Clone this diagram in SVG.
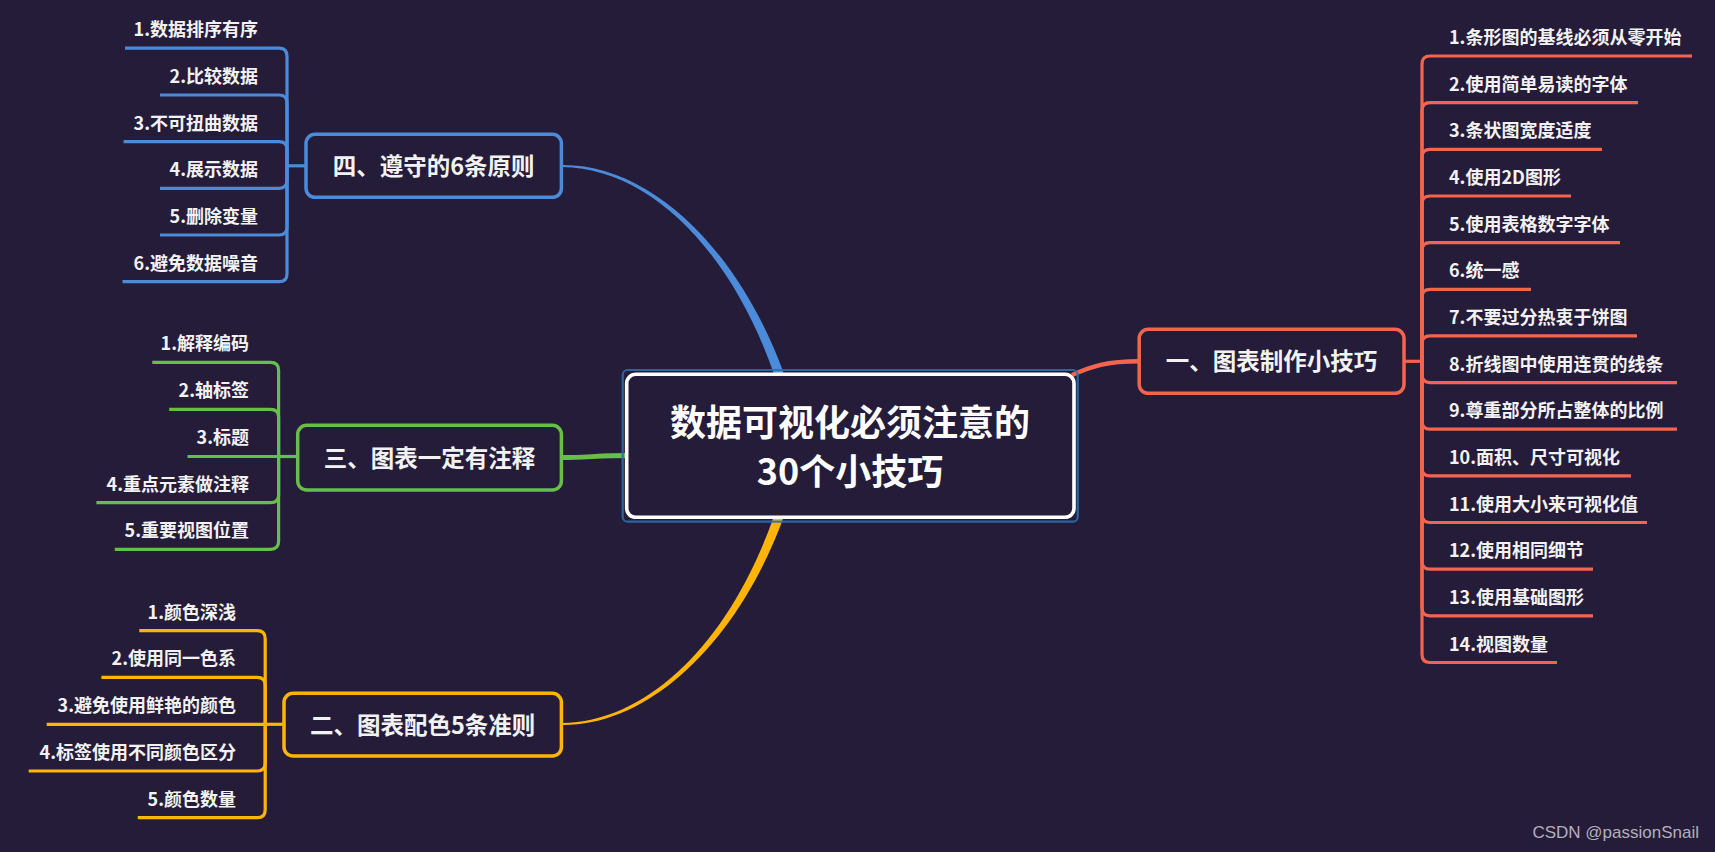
<svg xmlns="http://www.w3.org/2000/svg" width="1715" height="852" viewBox="0 0 1715 852">
<defs>
<style>
.bg{fill:#251c3a}
.t{font-family:"Noto Sans CJK SC","Noto Sans",sans-serif;font-weight:700;fill:#f2f2f2}
.sub{font-size:18px}
.main{font-size:23.5px;text-anchor:middle}
.root{font-size:36px;text-anchor:middle;fill:#ffffff}
.ln{fill:none;stroke-width:3.2;stroke-linecap:butt;stroke-linejoin:round}
.box{fill:#251c3a;stroke-width:3.5}
.c1{stroke:#f4644f}.f1{fill:#f4644f}
.c2{stroke:#ffb508}.f2{fill:#ffb508}
.c3{stroke:#66bf4a}.f3{fill:#66bf4a}
.c4{stroke:#4b8bd9}.f4{fill:#4b8bd9}
.r{text-anchor:end}
.wm{font-family:"Liberation Sans",Arial,sans-serif;font-size:17px;fill:#b3b0bc;text-anchor:end}
</style>
</defs>
<rect class="bg" x="0" y="0" width="1715" height="852"/>

<g id="connectors">
  <!-- main branches from center -->
  <path class="f4" d="M562,167 C650,168 731.7,251.2 774.5,375.6 L783.5,372.4 C738.3,248.8 650,164 562,165 Z"/>
  <path class="f2" d="M562,723 C650,722 731.7,638.8 774.5,514.4 L783.5,517.6 C738.3,641.2 650,726 562,725 Z"/>
  <path class="ln c1" style="stroke-width:4.4" d="M1072,375 C1092,366 1106,361.3 1140,361.3"/>
  <path class="ln c3" style="stroke-width:4.8" d="M628,455.5 C600,455.5 585,457.5 561,457.5"/>

  <!-- branch 1 children (right) -->
  <g class="ln c1">
    <path d="M1404,361.3 H1422"/>
    <path d="M1422,361.3 V64 Q1422,56 1430,56 H1692"/>
    <path d="M1422,361.3 V110.7 Q1422,102.7 1430,102.7 H1638"/>
    <path d="M1422,361.3 V157.3 Q1422,149.3 1430,149.3 H1602"/>
    <path d="M1422,361.3 V204 Q1422,196 1430,196 H1571"/>
    <path d="M1422,361.3 V250.6 Q1422,242.6 1430,242.6 H1620"/>
    <path d="M1422,361.3 V297.3 Q1422,289.3 1430,289.3 H1531"/>
    <path d="M1422,361.3 V343.9 Q1422,335.9 1430,335.9 H1637"/>
    <path d="M1422,361.3 V374.6 Q1422,382.6 1430,382.6 H1677"/>
    <path d="M1422,361.3 V421.2 Q1422,429.2 1430,429.2 H1677"/>
    <path d="M1422,361.3 V467.9 Q1422,475.9 1430,475.9 H1631"/>
    <path d="M1422,361.3 V514.5 Q1422,522.5 1430,522.5 H1647"/>
    <path d="M1422,361.3 V561.2 Q1422,569.2 1430,569.2 H1593"/>
    <path d="M1422,361.3 V607.8 Q1422,615.8 1430,615.8 H1593"/>
    <path d="M1422,361.3 V654.5 Q1422,662.5 1430,662.5 H1557"/>
  </g>

  <!-- branch 4 children (top-left) -->
  <g class="ln c4">
    <path d="M306,165.8 H287"/>
    <path d="M287,165.8 V56.2 Q287,48.2 279,48.2 H125"/>
    <path d="M287,165.8 V103 Q287,95 279,95 H160"/>
    <path d="M287,165.8 V149.7 Q287,141.7 279,141.7 H123.6"/>
    <path d="M287,165.8 V180.3 Q287,188.3 279,188.3 H160"/>
    <path d="M287,165.8 V227 Q287,235 279,235 H160"/>
    <path d="M287,165.8 V273.7 Q287,281.7 279,281.7 H122.5"/>
  </g>

  <!-- branch 3 children (middle-left) -->
  <g class="ln c3">
    <path d="M297.7,456.5 H278.6"/>
    <path d="M278.6,456.5 V370.3 Q278.6,362.3 270.6,362.3 H152.3"/>
    <path d="M278.6,456.5 V417.3 Q278.6,409.3 270.6,409.3 H169.2"/>
    <path d="M278.6,456.5 H187.5"/>
    <path d="M278.6,456.5 V494.7 Q278.6,502.7 270.6,502.7 H96.4"/>
    <path d="M278.6,456.5 V541.3 Q278.6,549.3 270.6,549.3 H114.8"/>
  </g>

  <!-- branch 2 children (bottom-left) -->
  <g class="ln c2">
    <path d="M284,724.3 H265.2"/>
    <path d="M265.2,724.3 V638.7 Q265.2,630.7 257.2,630.7 H139.3"/>
    <path d="M265.2,724.3 V685.3 Q265.2,677.3 257.2,677.3 H101.4"/>
    <path d="M265.2,724.3 H46.7"/>
    <path d="M265.2,724.3 V763 Q265.2,771 257.2,771 H28.7"/>
    <path d="M265.2,724.3 V809.7 Q265.2,817.7 257.2,817.7 H137.8"/>
  </g>
</g>

<g id="root">
  <rect x="622.7" y="370" width="455" height="151.7" rx="5" fill="none" stroke="#2b6ea8" stroke-width="2.2" opacity="0.9"/>
  <rect x="626.7" y="374.3" width="447.3" height="143" rx="9" fill="#251c3a" stroke="#ffffff" stroke-width="3.6"/>
  <text class="t root" x="850" y="436">数据可视化必须注意的</text>
  <text class="t root" x="850" y="485">30个小技巧</text>
</g>

<g id="b1">
  <rect class="box c1" x="1139.2" y="329.3" width="264.8" height="64" rx="9"/>
  <text class="t main" x="1271.6" y="370.2">一、图表制作小技巧</text>
</g>
<g id="b1-items">
  <text class="t sub" x="1449" y="44">1.条形图的基线必须从零开始</text>
  <text class="t sub" x="1449" y="90.7">2.使用简单易读的字体</text>
  <text class="t sub" x="1449" y="137.3">3.条状图宽度适度</text>
  <text class="t sub" x="1449" y="184">4.使用2D图形</text>
  <text class="t sub" x="1449" y="230.6">5.使用表格数字字体</text>
  <text class="t sub" x="1449" y="277.3">6.统一感</text>
  <text class="t sub" x="1449" y="323.9">7.不要过分热衷于饼图</text>
  <text class="t sub" x="1449" y="370.6">8.折线图中使用连贯的线条</text>
  <text class="t sub" x="1449" y="417.2">9.尊重部分所占整体的比例</text>
  <text class="t sub" x="1449" y="463.9">10.面积、尺寸可视化</text>
  <text class="t sub" x="1449" y="510.5">11.使用大小来可视化值</text>
  <text class="t sub" x="1449" y="557.2">12.使用相同细节</text>
  <text class="t sub" x="1449" y="603.8">13.使用基础图形</text>
  <text class="t sub" x="1449" y="650.5">14.视图数量</text>
</g>

<g id="b4">
  <rect class="box c4" x="306" y="134.3" width="255.4" height="63" rx="9"/>
  <text class="t main" x="433.7" y="174.7">四、遵守的6条原则</text>
</g>
<g id="b4-items">
  <text class="t sub r" x="258" y="36.2">1.数据排序有序</text>
  <text class="t sub r" x="258" y="83">2.比较数据</text>
  <text class="t sub r" x="258" y="129.7">3.不可扭曲数据</text>
  <text class="t sub r" x="258" y="176.3">4.展示数据</text>
  <text class="t sub r" x="258" y="223">5.删除变量</text>
  <text class="t sub r" x="258" y="269.7">6.避免数据噪音</text>
</g>

<g id="b3">
  <rect class="box c3" x="297.7" y="425.3" width="263.7" height="64.7" rx="9"/>
  <text class="t main" x="429.5" y="466.6">三、图表一定有注释</text>
</g>
<g id="b3-items">
  <text class="t sub r" x="249" y="350.3">1.解释编码</text>
  <text class="t sub r" x="249" y="397.3">2.轴标签</text>
  <text class="t sub r" x="249" y="444">3.标题</text>
  <text class="t sub r" x="249" y="490.7">4.重点元素做注释</text>
  <text class="t sub r" x="249" y="537.3">5.重要视图位置</text>
</g>

<g id="b2">
  <rect class="box c2" x="284" y="693.3" width="277.4" height="62.7" rx="9"/>
  <text class="t main" x="422.7" y="733.6">二、图表配色5条准则</text>
</g>
<g id="b2-items">
  <text class="t sub r" x="236" y="618.7">1.颜色深浅</text>
  <text class="t sub r" x="236" y="665.3">2.使用同一色系</text>
  <text class="t sub r" x="236" y="712">3.避免使用鲜艳的颜色</text>
  <text class="t sub r" x="236" y="759">4.标签使用不同颜色区分</text>
  <text class="t sub r" x="236" y="805.7">5.颜色数量</text>
</g>

<text class="wm" x="1699" y="838">CSDN @passionSnail</text>
</svg>
